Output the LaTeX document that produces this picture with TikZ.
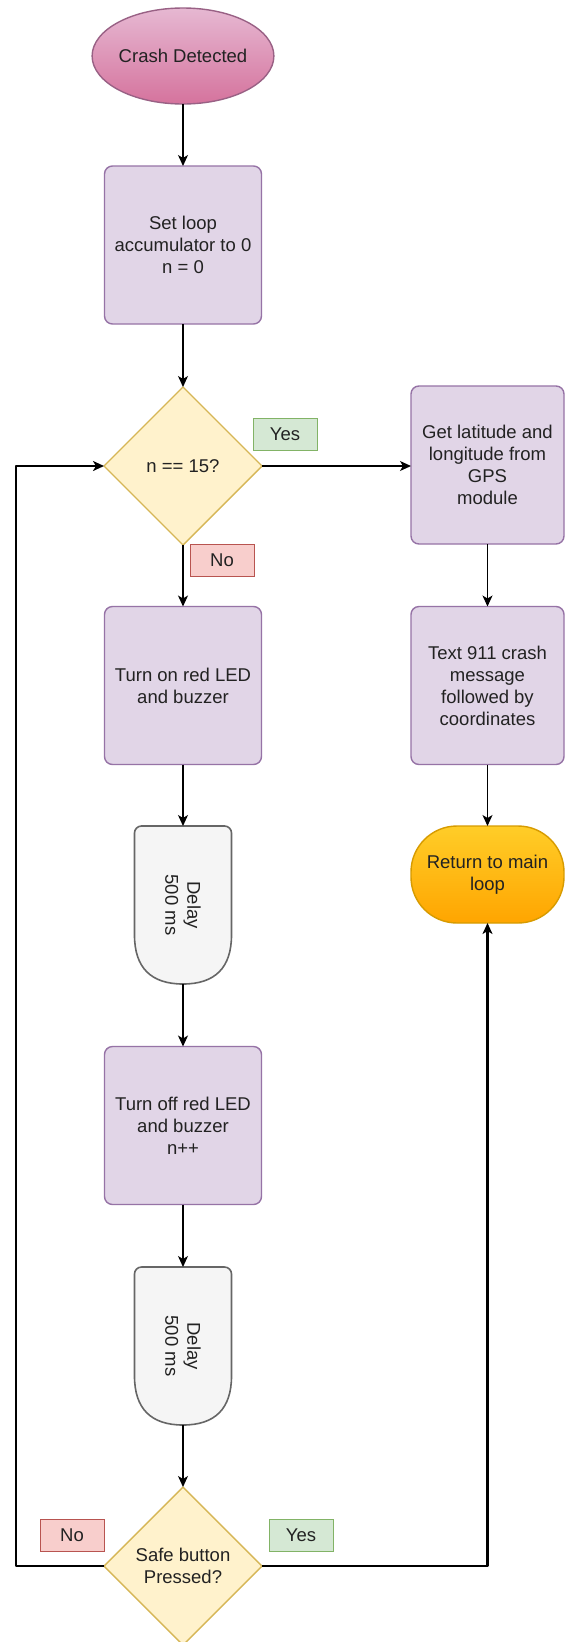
\documentclass[tikz,border=0pt]{standalone}
\usepackage{fontspec}
\setmainfont{Liberation Sans}
\usetikzlibrary{shapes.geometric,arrows.meta,calc}
\definecolor{procfill}{HTML}{E1D5E7}
\definecolor{procdraw}{HTML}{9673A6}
\definecolor{decfill}{HTML}{FFF2CC}
\definecolor{decdraw}{HTML}{D6B656}
\definecolor{yesfill}{HTML}{D5E8D4}
\definecolor{yesdraw}{HTML}{82B366}
\definecolor{nofill}{HTML}{F8CECC}
\definecolor{nodraw}{HTML}{B85450}
\definecolor{delfill}{HTML}{F5F5F5}
\definecolor{deldraw}{HTML}{666666}
\definecolor{pinktop}{HTML}{E6B8D2}
\definecolor{pinkbot}{HTML}{D5739D}
\definecolor{pinkdraw}{HTML}{996185}
\definecolor{orgtop}{HTML}{FFCD28}
\definecolor{orgbot}{HTML}{FFA500}
\definecolor{orgdraw}{HTML}{D79B00}
\definecolor{txt}{HTML}{222222}
\begin{document}
\begin{tikzpicture}[x=1pt,y=-1pt,
  every node/.style={font=\fontsize{18.5}{22}\selectfont, text=txt, align=center, inner sep=0pt, outer sep=0pt},
  proc/.style={rectangle, rounded corners=8pt, draw=procdraw, fill=procfill, line width=1.4pt, minimum width=157pt, minimum height=158pt},
  rproc/.style={proc, minimum width=153pt},
  dec/.style={diamond, draw=decdraw, fill=decfill, line width=1.4pt, minimum width=158pt, minimum height=158pt},
  yeslab/.style={rectangle, draw=yesdraw, fill=yesfill, line width=1pt, minimum width=64pt, minimum height=32pt},
  nolab/.style={rectangle, draw=nodraw, fill=nofill, line width=1pt, minimum width=64pt, minimum height=32pt},
  delaybox/.style={rectangle, minimum width=97pt, minimum height=158pt},
  delstyle/.style={draw=deldraw, fill=delfill, line width=1.6pt},
  flow/.style={draw=black, line width=1.3pt, -{Stealth[length=11pt,width=10pt,inset=3pt]}},
  loopline/.style={draw=black, line width=2.2pt, line join=round, -{Stealth[length=11pt,width=10pt,inset=3pt]}}
]
\useasboundingbox[fill=white] (0,0) rectangle (565,1642);

% nodes
\node[ellipse, draw=pinkdraw, line width=1.4pt, top color=pinktop, bottom color=pinkbot, minimum width=160pt, minimum height=96pt] (crash) at (183,56) {Crash Detected};
\node[proc] (setn) at (183,245) {Set loop\\accumulator to 0\\n = 0};
\node[dec] (dec1) at (183,466) {n == 15?};
\node[rproc] (gps) at (487.5,465) {Get latitude and\\longitude from\\GPS\\module};
\node[proc] (redon) at (183,685.5) {Turn on red LED\\and buzzer};
\node[rproc] (sms) at (487.5,685.5) {Text 911 crash\\message\\followed by\\coordinates};
\node[delaybox] (d1) at (183,905) {};
\node[rectangle, rounded corners=46pt, draw=orgdraw, line width=1.4pt, top color=orgtop, bottom color=orgbot, minimum width=153pt, minimum height=97pt] (ret) at (487.5,874.5) {Return to main\\loop};
\node[proc] (redoff) at (183,1125.5) {Turn off red LED\\and buzzer\\n++};
\node[delaybox] (d2) at (183,1346) {};
\node[dec] (dec2) at (183,1566) {Safe button\\Pressed?};

% delay shapes
\foreach \d in {d1,d2}{
  \draw[delstyle] ($(\d.south west)+(0,-49)$) [rounded corners=7pt] -- (\d.north west) -- (\d.north east) [sharp corners] -- ($(\d.south east)+(0,-49)$)
    .. controls +(0,32.7) and +(32,0) .. (\d.south)
    .. controls +(-32,0) and +(0,32.7) .. cycle;
}
\node[rotate=-90] (t1) at (d1.center) {Delay\\500 ms};
\node[rotate=-90] (t2) at (d2.center) {Delay\\500 ms};

% labels
\node[yeslab] (yes1) at (285,434) {Yes};
\node[nolab] (no1) at (222,560) {No};
\node[nolab] (no2) at (72,1535) {No};
\node[yeslab] (yes2) at (301,1535) {Yes};

% connectors
\draw[flow] (crash.south) -- (setn.north);
\draw[flow] (setn.south) -- (dec1.north);
\draw[flow] (dec1.east) -- (dec1.east -| gps.west);
\draw[flow] (dec1.south) -- (redon.north);
\draw[flow] (gps.south) -- (sms.north);
\draw[flow] (sms.south) -- (ret.north);
\draw[flow] (redon.south) -- (d1.north);
\draw[flow] (d1.south) -- (redoff.north);
\draw[flow] (redoff.south) -- (d2.north);
\draw[flow] (d2.south) -- (dec2.north);
\coordinate (lx) at (16,1566);
\draw[loopline] (dec2.west) -- (lx) |- (dec1.west);
\draw[loopline] (dec2.east) -| (ret.south);
\end{tikzpicture}
\end{document}
